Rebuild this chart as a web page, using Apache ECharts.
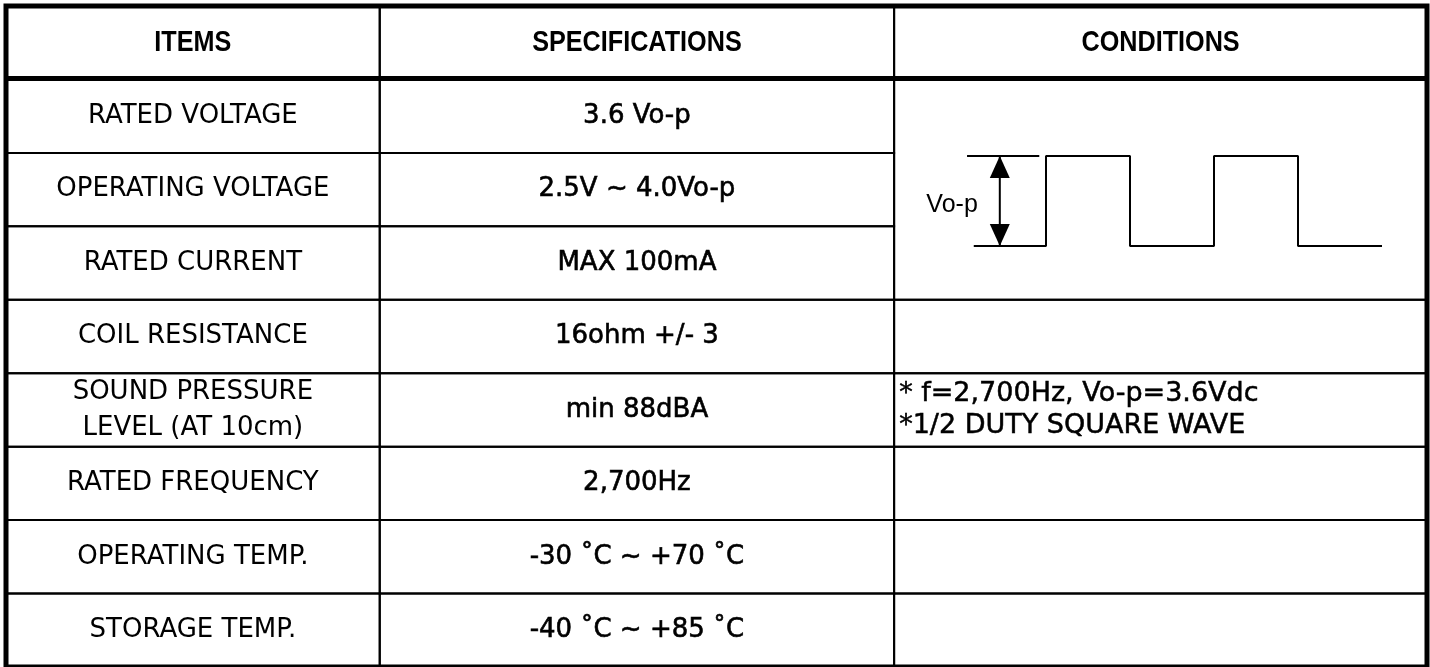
<!DOCTYPE html>
<html>
<head>
<meta charset="utf-8">
<title>Buzzer specifications</title>
<script src="https://cdn.jsdelivr.net/npm/echarts@6/dist/echarts.min.js"></script>
<style>
  html, body { margin: 0; padding: 0; background: #fff; }
  #table { width: 1430px; height: 667px; }
</style>
</head>
<body>
<div id="table"></div>
<script>
// table content
var headers = ['ITEMS', 'SPECIFICATIONS', 'CONDITIONS'];
var items = ['RATED VOLTAGE', 'OPERATING VOLTAGE', 'RATED CURRENT', 'COIL RESISTANCE',
  'SOUND PRESSURE\nLEVEL (AT 10cm)', 'RATED FREQUENCY', 'OPERATING TEMP.', 'STORAGE TEMP.'];
var specs = ['3.6 Vo-p', '2.5V ~ 4.0Vo-p', 'MAX 100mA', '16ohm +/- 3',
  'min 88dBA', '2,700Hz', '-30 ˚C ~ +70 ˚C', '-40 ˚C ~ +85 ˚C'];
var conditionNotes = ['', '', '* f=2,700Hz, Vo-p=3.6Vdc\n*1/2 DUTY SQUARE WAVE', '', '', ''];
var conditionSpans = [3, 1, 1, 1, 1, 1];

// square wave in the first conditions cell (time in half periods, level 0/1)
var waveT = [-0.86, 0, 0, 1, 1, 2, 2, 3, 3, 4];
var waveV = [0, 0, 1, 1, 0, 0, 1, 1, 0, 0];
var refT = [-0.94, -0.08];
var refV = [1, 1];
var arrowT = -0.55;
var waveLabel = 'Vo-p';

// column edges in percent of the table width
var colEdges = [0, 26.3, 62.5, 100];
var rowCount = items.length + 1;

var cells = [];
headers.forEach(function(h, c) {
  cells.push({c0: colEdges[c], c1: colEdges[c + 1], r0: 0, r1: 1, text: h, kind: 'head'});
});
items.forEach(function(t, i) {
  cells.push({c0: colEdges[0], c1: colEdges[1], r0: i + 1, r1: i + 2, text: t, kind: 'item'});
});
specs.forEach(function(t, i) {
  cells.push({c0: colEdges[1], c1: colEdges[2], r0: i + 1, r1: i + 2, text: t, kind: 'spec'});
});
var row = 1;
conditionNotes.forEach(function(t, i) {
  cells.push({c0: colEdges[2], c1: colEdges[3], r0: row, r1: row + conditionSpans[i], text: t, kind: 'note'});
  row += conditionSpans[i];
});

// header font is a narrow bold face: squeeze a normal bold one
var textStyles = {
  head: {fontFamily: '"Liberation Sans", Arial, sans-serif', fontWeight: 'bold', fontSize: 30, align: 'center', lineHeight: 34, scaleX: 0.84, stroke: 0},
  item: {fontFamily: '"DejaVu Sans", sans-serif', fontWeight: 'normal', fontSize: 26, align: 'center', lineHeight: 36, scaleX: 1, stroke: 0},
  spec: {fontFamily: '"DejaVu Sans", sans-serif', fontWeight: 'normal', fontSize: 26, align: 'center', lineHeight: 34, scaleX: 1, stroke: 0.6},
  note: {fontFamily: '"DejaVu Sans", sans-serif', fontWeight: 'normal', fontSize: 27, align: 'left', lineHeight: 32, scaleX: 1, stroke: 0.5}
};

function renderCell(params, api) {
  var cell = cells[params.dataIndex];
  var p0 = api.coord([api.value(0), api.value(1)]);
  var p1 = api.coord([api.value(2), api.value(3)]);
  var st = textStyles[cell.kind];
  var tx = st.align === 'left' ? p0[0] + 5 : (p0[0] + p1[0]) / 2;
  var ty = (p0[1] + p1[1]) / 2;
  return {
    type: 'group',
    children: [{
      type: 'rect',
      shape: {x: p0[0], y: p0[1], width: p1[0] - p0[0], height: p1[1] - p0[1]},
      style: {fill: 'none', stroke: '#000', lineWidth: 2}
    }, {
      type: 'text',
      x: tx, y: ty,
      scaleX: st.scaleX,
      style: {
        text: cell.text, x: 0, y: 0,
        align: st.align, verticalAlign: 'middle',
        fontFamily: st.fontFamily, fontWeight: st.fontWeight, fontSize: st.fontSize,
        lineHeight: st.lineHeight, fill: '#000',
        stroke: st.stroke ? '#000' : null, lineWidth: st.stroke
      }
    }]
  };
}

function renderFrame(params, api) {
  var p0 = api.coord([api.value(0), api.value(1)]);
  var p1 = api.coord([api.value(2), api.value(3)]);
  var h = api.coord([api.value(0), api.value(4)]);
  return {
    type: 'group',
    children: [{
      type: 'rect',
      shape: {x: p0[0], y: p0[1], width: p1[0] - p0[0], height: p1[1] - p0[1]},
      style: {fill: 'none', stroke: '#000', lineWidth: 5}
    }, {
      type: 'line',
      shape: {x1: p0[0], y1: h[1] - 1, x2: p1[0], y2: h[1] - 1},
      style: {stroke: '#000', lineWidth: 5}
    }]
  };
}

function renderArrow(params, api) {
  var lo = api.coord([api.value(0), api.value(1)]);
  var hi = api.coord([api.value(0), api.value(2)]);
  var x = hi[0];
  return {
    type: 'group',
    children: [{
      type: 'line',
      shape: {x1: x, y1: hi[1], x2: x, y2: lo[1]},
      style: {stroke: '#000', lineWidth: 2}
    }, {
      type: 'polygon',
      shape: {points: [[x, hi[1]], [x - 10, hi[1] + 22], [x + 10, hi[1] + 22]]},
      style: {fill: '#000'}
    }, {
      type: 'polygon',
      shape: {points: [[x, lo[1]], [x - 10, lo[1] - 22], [x + 10, lo[1] - 22]]},
      style: {fill: '#000'}
    }, {
      type: 'text',
      style: {
        text: waveLabel, x: x - 22, y: (hi[1] + lo[1]) / 2 + 4,
        align: 'right', verticalAlign: 'middle',
        fontFamily: '"Liberation Sans", Arial, sans-serif', fontSize: 25, fill: '#000'
      }
    }]
  };
}

var chart = echarts.init(document.getElementById('table'));

chart.setOption({
  animation: false,
  grid: [
    {left: 6, top: 6, width: 1421, height: 662},
    {left: 962, top: 156, width: 420, height: 90}
  ],
  xAxis: [
    {type: 'value', gridIndex: 0, min: 0, max: 100, show: false},
    {type: 'value', gridIndex: 1, min: -1, max: 4, show: false}
  ],
  yAxis: [
    {type: 'value', gridIndex: 0, min: 0, max: rowCount, inverse: true, show: false},
    {type: 'value', gridIndex: 1, min: 0, max: 1, show: false}
  ],
  series: [{
    type: 'custom',
    name: 'cells',
    xAxisIndex: 0, yAxisIndex: 0,
    renderItem: renderCell,
    encode: {x: [0, 2], y: [1, 3]},
    data: cells.map(function(c) { return [c.c0, c.r0, c.c1, c.r1]; }),
    z: 2
  }, {
    type: 'custom',
    name: 'frame',
    xAxisIndex: 0, yAxisIndex: 0,
    renderItem: renderFrame,
    encode: {x: [0, 2], y: [1, 3]},
    data: [[0, 0, 100, rowCount, 1]],
    z: 3
  }, {
    type: 'line',
    name: 'wave',
    xAxisIndex: 1, yAxisIndex: 1,
    data: waveT.map(function(t, i) { return [t, waveV[i]]; }),
    showSymbol: false,
    lineStyle: {color: '#000', width: 2},
    z: 4
  }, {
    type: 'line',
    name: 'reference',
    xAxisIndex: 1, yAxisIndex: 1,
    data: refT.map(function(t, i) { return [t, refV[i]]; }),
    showSymbol: false,
    lineStyle: {color: '#000', width: 2},
    z: 4
  }, {
    type: 'custom',
    name: 'amplitude',
    xAxisIndex: 1, yAxisIndex: 1,
    renderItem: renderArrow,
    data: [[arrowT, 0, 1]],
    z: 4
  }]
});
</script>
</body>
</html>
